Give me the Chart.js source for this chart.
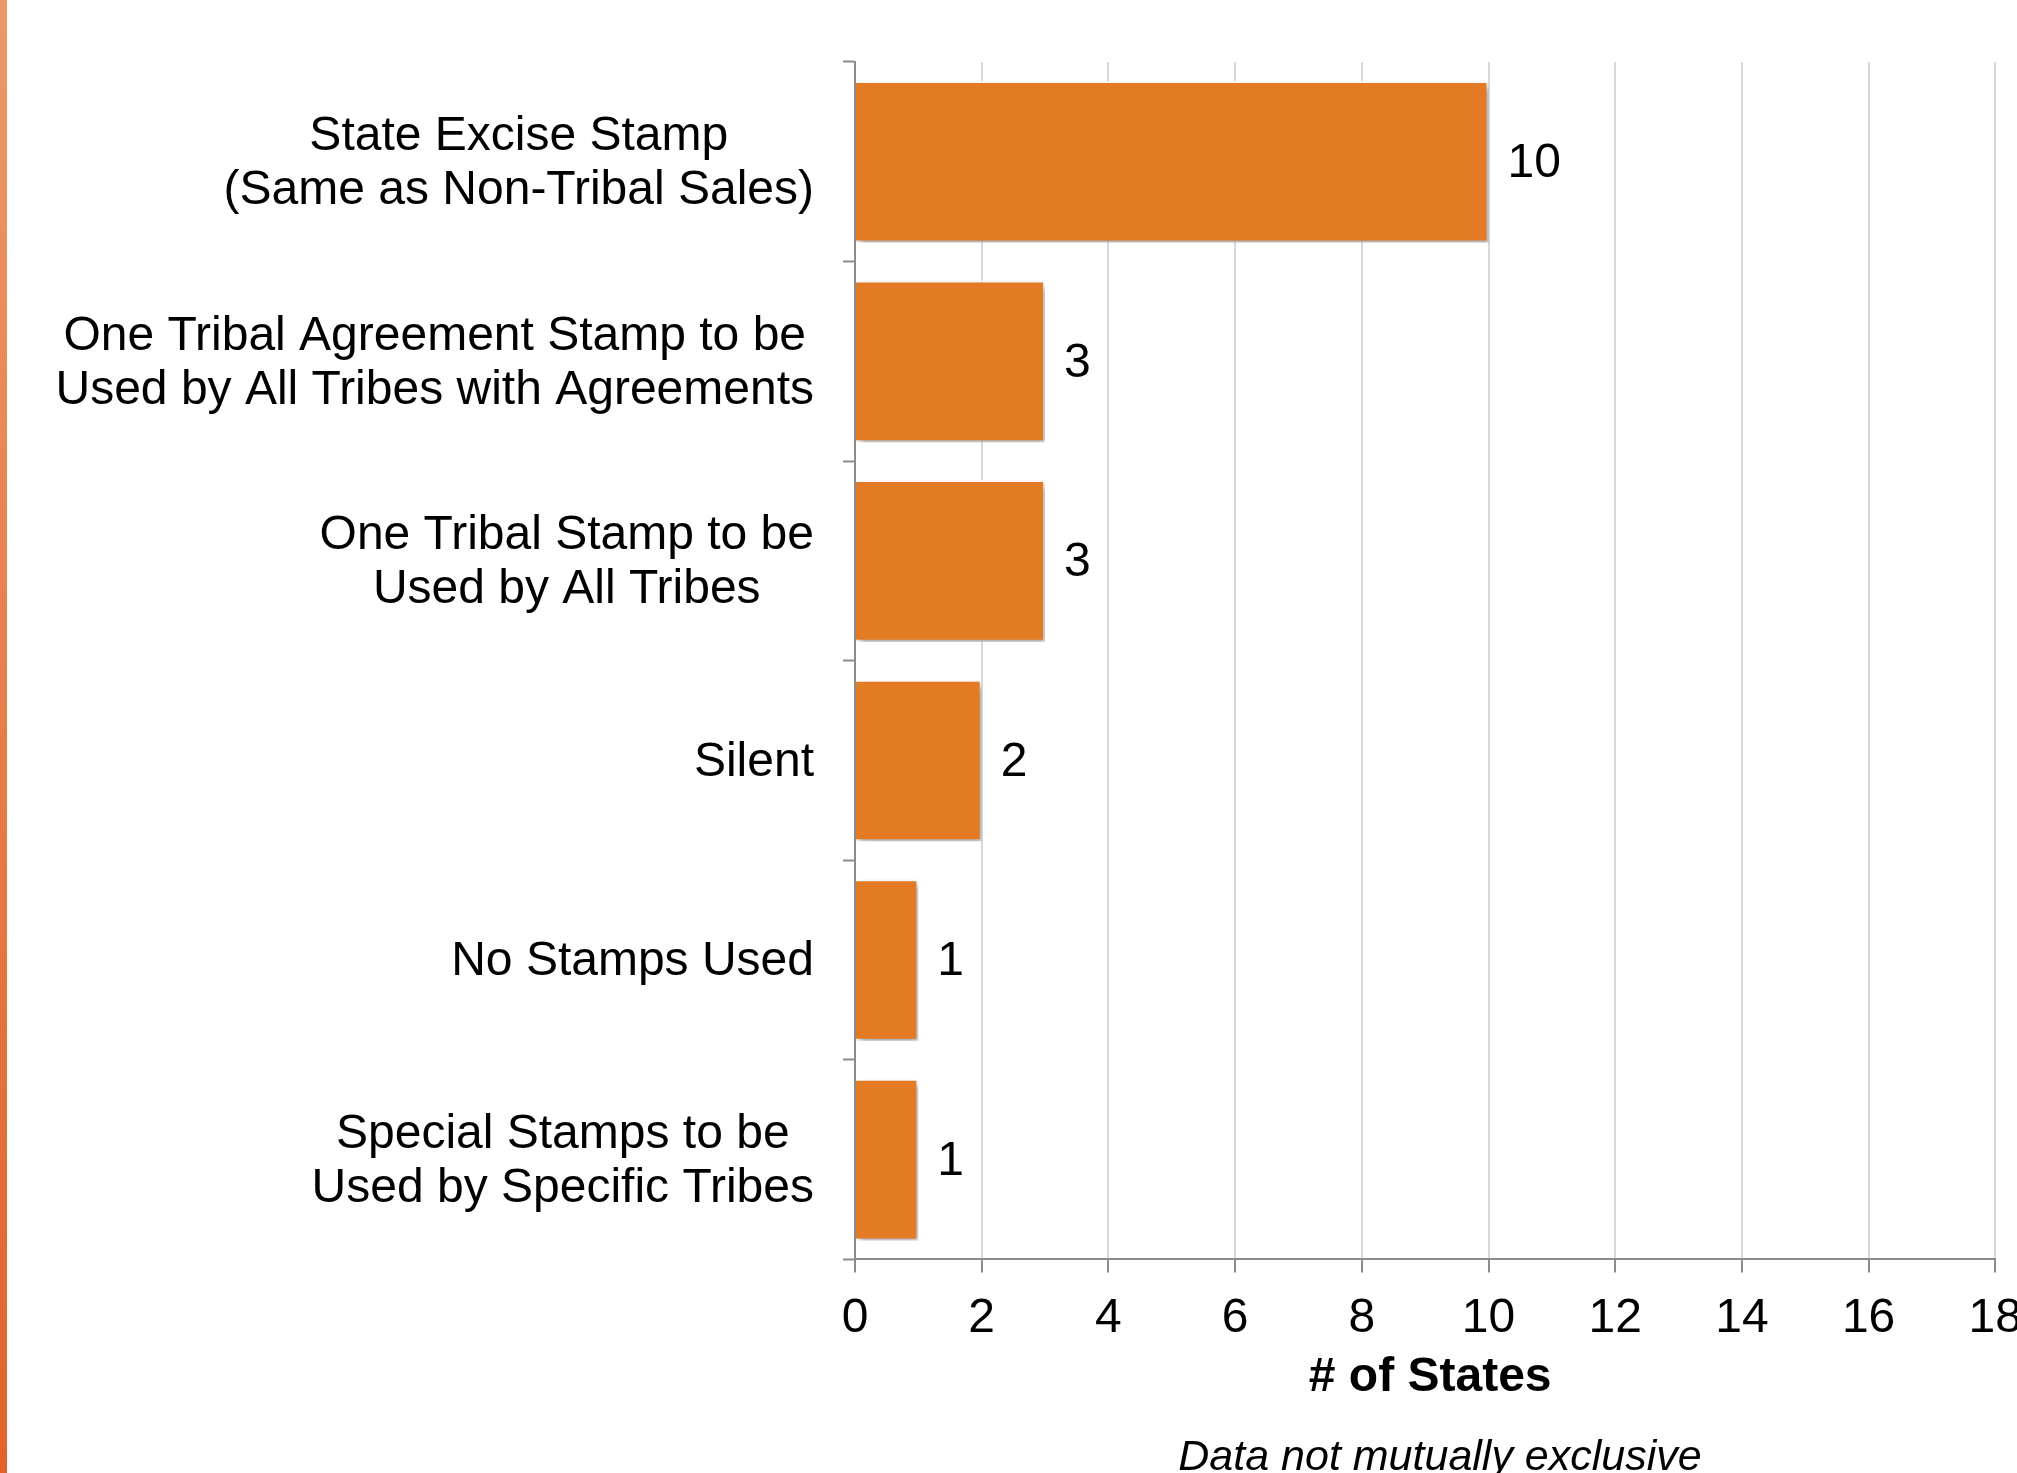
<!DOCTYPE html>
<html>
<head>
<meta charset="utf-8">
<script src="https://cdn.jsdelivr.net/npm/chart.js@4/dist/chart.umd.min.js"></script>
<style>
  html, body { margin: 0; padding: 0; background: #ffffff; overflow: hidden; width: 2017px; height: 1473px; }
  #stripe { position: absolute; left: 0; top: 0; width: 7px; height: 1473px; background: linear-gradient(#EB9867, #E0632B); }
  #wrap { position: absolute; left: 0; top: 0; width: 2040px; height: 1480px; }
</style>
</head>
<body>
<div id="stripe"></div>
<div id="wrap"><canvas id="c" width="2040" height="1480"></canvas></div>
<script>
// ---- data ----
const categories = [
  ["State Excise Stamp", "(Same as Non-Tribal Sales)"],
  ["One Tribal Agreement Stamp to be", "Used by All Tribes with Agreements"],
  ["One Tribal Stamp to be", "Used by All Tribes"],
  ["Silent"],
  ["No Stamps Used"],
  ["Special Stamps to be", "Used by Specific Tribes"]
];
const values = [10, 3, 3, 2, 1, 1];
const xMin = 0;
const xMax = 18;
const xStep = 2;
const axisTitle = "# of States";
const noteText = "Data not mutually exclusive";

const FONT = "'Liberation Sans', Arial, sans-serif";

const labelPlugin = {
  id: 'labelPlugin',
  afterDraw(chart) {
    const ctx = chart.ctx;
    const yScale = chart.scales.y;
    const xScale = chart.scales.x;
    ctx.save();
    ctx.fillStyle = '#000000';
    ctx.font = '48px ' + FONT;
    ctx.textBaseline = 'middle';
    // category labels: block right-aligned, lines centered within block
    const rightEdge = yScale.left - 29;
    const lineH = 54;
    categories.forEach((lines, i) => {
      const cy = yScale.getPixelForValue(i);
      const widths = lines.map(l => ctx.measureText(l).width);
      const blockW = Math.max(...widths);
      const cx = rightEdge - blockW / 2;
      ctx.textAlign = 'center';
      lines.forEach((l, j) => {
        const y = cy + (j - (lines.length - 1) / 2) * lineH;
        ctx.fillText(l, cx, y + 2);
      });
    });
    // value labels
    ctx.textAlign = 'left';
    values.forEach((v, i) => {
      const x = xScale.getPixelForValue(v) + 19;
      const y = yScale.getPixelForValue(i);
      ctx.fillText(String(v), x, y + 2);
    });
    // axis title
    ctx.font = 'bold 48px ' + FONT;
    ctx.textAlign = 'center';
    ctx.fillText(axisTitle, (xScale.left + xScale.right) / 2 + 5, 1378);
    // note
    ctx.font = 'italic 43px ' + FONT;
    ctx.textAlign = 'center';
    ctx.fillText(noteText, 1440, 1458);
    ctx.restore();
  }
};

const shadowPlugin = {
  id: 'shadowPlugin',
  beforeDatasetDraw(chart) {
    const ctx = chart.ctx;
    ctx.save();
    ctx.shadowColor = 'rgba(0,0,0,0.35)';
    ctx.shadowBlur = 7;
    ctx.shadowOffsetX = 3;
    ctx.shadowOffsetY = 4;
  },
  afterDatasetDraw(chart) {
    chart.ctx.restore();
  }
};

new Chart(document.getElementById('c'), {
  type: 'bar',
  data: {
    labels: categories.map(c => c.join(' ')),
    datasets: [{
      data: values,
      backgroundColor: '#E37B24',
      borderColor: 'rgba(255,255,255,0.85)',
      borderWidth: 2,
      barPercentage: 0.81,
      categoryPercentage: 1.0
    }]
  },
  options: {
    indexAxis: 'y',
    responsive: false,
    animation: false,
    devicePixelRatio: 1,
    layout: { padding: { left: 843, right: 41, top: 62, bottom: 114 } },
    plugins: { legend: { display: false }, tooltip: { enabled: false }, title: { display: false } },
    scales: {
      x: {
        min: xMin,
        max: xMax,
        ticks: {
          stepSize: xStep,
          color: '#000000',
          font: { family: FONT, size: 48 },
          padding: 18,
          maxRotation: 0
        },
        grid: {
          color: '#d9d9d9',
          lineWidth: 2,
          drawTicks: true,
          tickLength: 13,
          tickColor: '#8c8c8c',
          tickWidth: 2
        },
        border: { color: '#8c8c8c', width: 2 },
        title: { display: false }
      },
      y: {
        ticks: { display: false },
        grid: {
          drawOnChartArea: false,
          drawTicks: true,
          tickLength: 12,
          tickColor: '#8c8c8c',
          tickWidth: 2
        },
        border: { color: '#8c8c8c', width: 2 }
      }
    }
  },
  plugins: [shadowPlugin, labelPlugin]
});
</script>
</body>
</html>
